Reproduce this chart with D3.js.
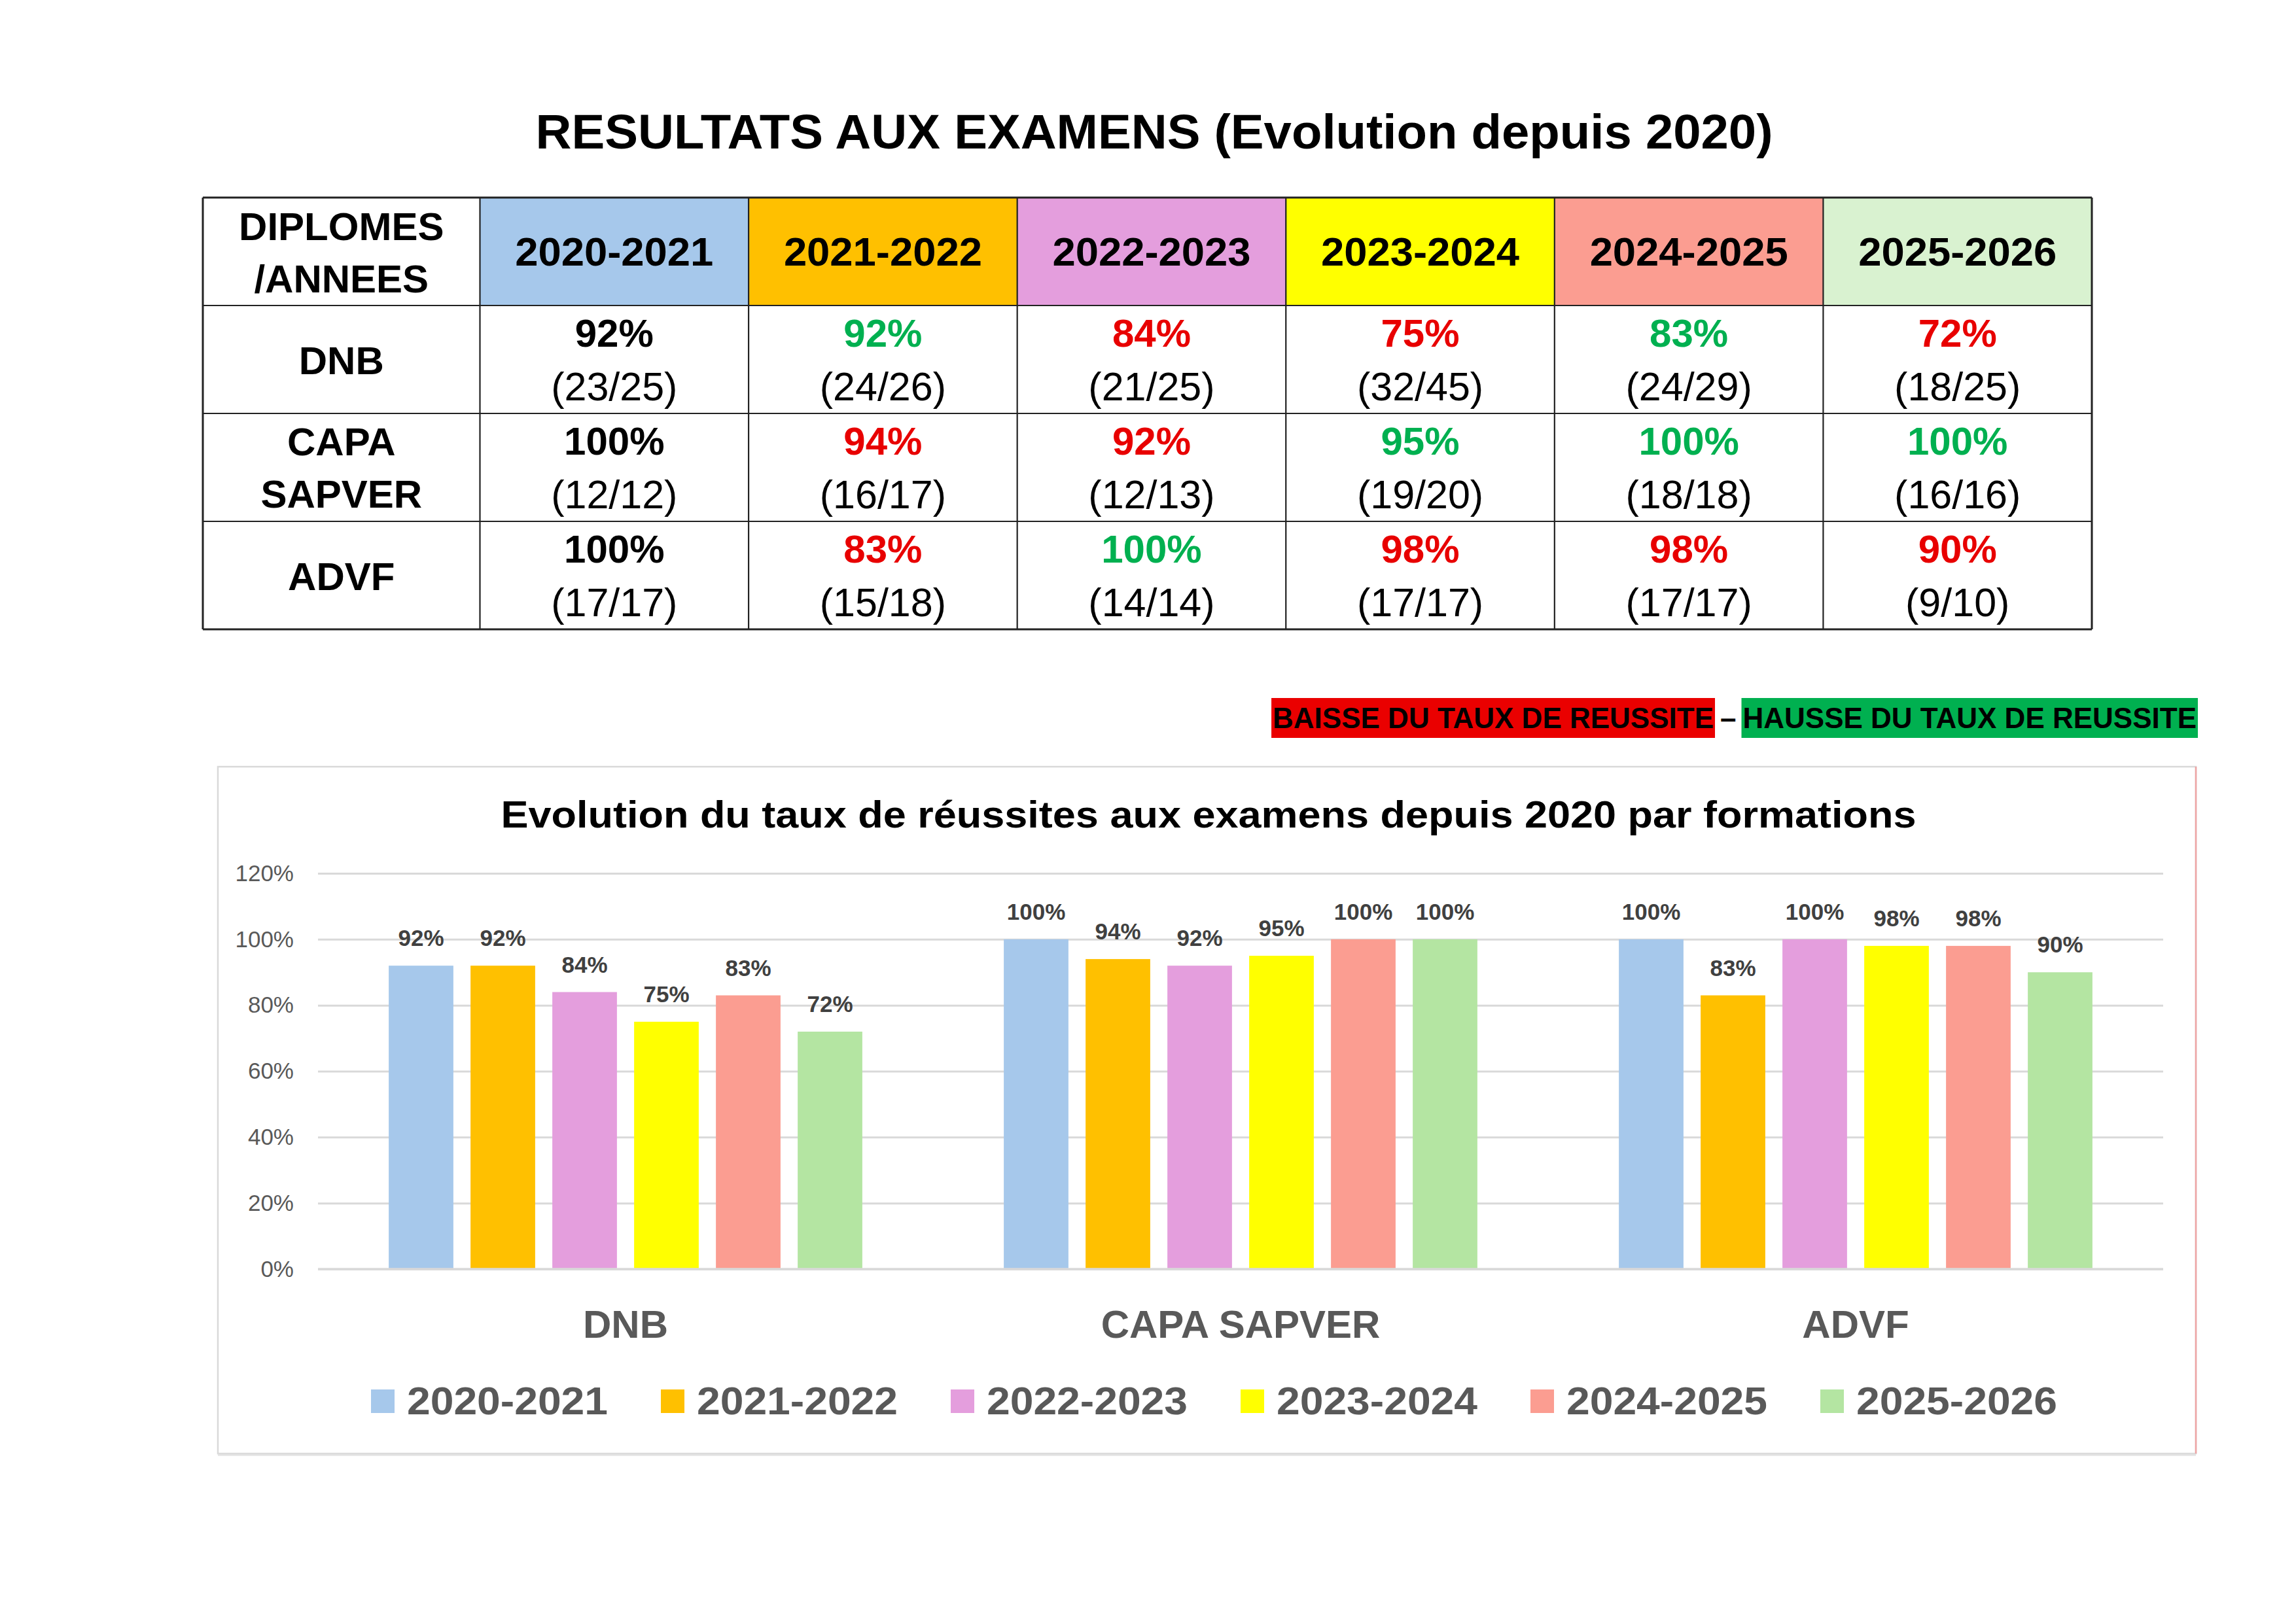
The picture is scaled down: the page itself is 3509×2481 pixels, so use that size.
<!DOCTYPE html>
<html><head><meta charset="utf-8">
<script src="https://cdn.jsdelivr.net/npm/d3@7"></script>
<style>
html,body{margin:0;padding:0;background:#fff;}
svg{display:block;}
</style></head>
<body>
<svg id="c" width="3509" height="2481"></svg>
<script>
// ---------- DATA ----------
const title = "RESULTATS AUX EXAMENS (Evolution depuis 2020)";
const chartTitle = "Evolution du taux de réussites aux examens depuis 2020 par formations";
const years = ["2020-2021","2021-2022","2022-2023","2023-2024","2024-2025","2025-2026"];
const diplomas = ["DNB","CAPA SAPVER","ADVF"];
const diplomaLines = [["DNB"],["CAPA","SAPVER"],["ADVF"]];
const dnbValues  = [92, 92, 84, 75, 83, 72];
const capaValues = [100, 94, 92, 95, 100, 100];
const advfValues = [100, 83, 100, 98, 98, 90];
const dnbCounts  = ["(23/25)","(24/26)","(21/25)","(32/45)","(24/29)","(18/25)"];
const capaCounts = ["(12/12)","(16/17)","(12/13)","(19/20)","(18/18)","(16/16)"];
const advfCounts = ["(17/17)","(15/18)","(14/14)","(17/17)","(17/17)","(9/10)"];
// trend shown in table: 0 = reference, -1 = baisse, +1 = hausse
const dnbTrend  = [0, 1, -1, -1, 1, -1];
const capaTrend = [0, -1, -1, 1, 1, 1];
const advfTrend = [0, -1, 1, -1, -1, -1];
const yTicks = [0, 0.2, 0.4, 0.6, 0.8, 1.0, 1.2];
const legendDown = "BAISSE DU TAUX DE REUSSITE";
const legendUp = "HAUSSE DU TAUX DE REUSSITE";

const values = [dnbValues, capaValues, advfValues];
const counts = [dnbCounts, capaCounts, advfCounts];
const trends = [dnbTrend, capaTrend, advfTrend];

// ---------- STYLE ----------
const headerFill = ["#a6c8eb","#ffc000","#e49edd","#ffff00","#fb9d91","#d9f2d0"];
const barFill    = ["#a6c8eb","#ffc000","#e49edd","#ffff00","#fb9d91","#b4e5a2"];
const RED = "#e80000", GREEN = "#00b050";
const FONT = "'Liberation Sans', Arial, sans-serif";

const svg = d3.select("#c").style("font-family", FONT);

// ---------- MAIN TITLE ----------
svg.append("text").attr("x", 1764).attr("y", 227).attr("text-anchor","middle")
  .attr("font-size", 74).attr("font-weight","bold").attr("fill","#000")
  .attr("textLength", 1891).attr("lengthAdjust","spacingAndGlyphs").text(title);

// ---------- TABLE ----------
const colX = d3.scaleBand().domain(years).range([733.5, 3197]);
const rowY = d3.scaleBand().domain(diplomas).range([467, 962]);
const tLeft = 310, tTop = 302, hdrBottom = 467;
const tb = svg.append("g");
tb.selectAll("rect.h").data(years).join("rect")
  .attr("x", d => colX(d)).attr("y", tTop).attr("width", colX.bandwidth()).attr("height", hdrBottom - tTop)
  .attr("fill", (d,i) => headerFill[i]);
const vlines = [tLeft, ...years.map(y => colX(y)), colX.range()[1]];
const hlines = [tTop, ...diplomas.map(d => rowY(d)), rowY.range()[1]];
tb.selectAll("line.v").data(vlines).join("line")
  .attr("x1", d => d).attr("x2", d => d).attr("y1", tTop).attr("y2", rowY.range()[1])
  .attr("stroke","#222").attr("stroke-width", (d,i) => (i===0||i===vlines.length-1) ? 3 : 2.2);
tb.selectAll("line.hl").data(hlines).join("line")
  .attr("x1", tLeft).attr("x2", colX.range()[1]).attr("y1", d => d).attr("y2", d => d)
  .attr("stroke","#222").attr("stroke-width", (d,i) => (i===0||i===hlines.length-1) ? 3 : 2.2);
const c0 = (tLeft + colX.range()[0]) / 2;
tb.append("text").attr("x", c0).attr("y", 367).attr("text-anchor","middle")
  .attr("font-size", 60).attr("font-weight","bold").text("DIPLOMES");
tb.append("text").attr("x", c0).attr("y", 447).attr("text-anchor","middle")
  .attr("font-size", 60).attr("font-weight","bold").text("/ANNEES");
tb.selectAll("text.yr").data(years).join("text")
  .attr("x", d => colX(d) + colX.bandwidth()/2).attr("y", 406).attr("text-anchor","middle")
  .attr("font-size", 61).attr("font-weight","bold").attr("fill","#000")
  .attr("textLength", 303).attr("lengthAdjust","spacingAndGlyphs").text(d => d);
diplomas.forEach((d, r) => {
  const lines = diplomaLines[r];
  const top = rowY(d), h = rowY.bandwidth();
  lines.forEach((ln, k) => {
    const yb = lines.length === 1 ? top + h/2 + 22 : top + 64 + k*80;
    tb.append("text").attr("x", c0).attr("y", yb).attr("text-anchor","middle")
      .attr("font-size", 60).attr("font-weight","bold").attr("fill","#000").text(ln);
  });
  years.forEach((yr, i) => {
    const cx = colX(yr) + colX.bandwidth()/2;
    const t = trends[r][i];
    tb.append("text").attr("x", cx).attr("y", top + 63).attr("text-anchor","middle")
      .attr("font-size", 60).attr("font-weight","bold")
      .attr("fill", t < 0 ? RED : t > 0 ? GREEN : "#000").text(values[r][i] + "%");
    tb.append("text").attr("x", cx).attr("y", top + 145).attr("text-anchor","middle")
      .attr("font-size", 61).attr("fill","#000").text(counts[r][i]);
  });
});

// ---------- RED / GREEN KEY ----------
const key = svg.append("g");
const keyY = 1113, keyFS = 44;
const tUp = key.append("text").attr("x", 3357).attr("y", keyY).attr("text-anchor","end")
  .attr("font-size", keyFS).attr("font-weight","bold").text(legendUp);
const bUp = tUp.node().getBBox();
const tDash = key.append("text").attr("x", bUp.x - 10).attr("y", keyY).attr("text-anchor","end")
  .attr("font-size", keyFS).attr("font-weight","bold").text("–");
const bDash = tDash.node().getBBox();
const tDown = key.append("text").attr("x", bDash.x - 10).attr("y", keyY).attr("text-anchor","end")
  .attr("font-size", keyFS).attr("font-weight","bold").text(legendDown);
const bDown = tDown.node().getBBox();
key.insert("rect", "text").attr("x", bUp.x - 2).attr("y", 1067).attr("width", bUp.width + 4).attr("height", 61).attr("fill", "#00b050");
key.insert("rect", "text").attr("x", bDown.x - 2).attr("y", 1067).attr("width", bDown.width + 4).attr("height", 61).attr("fill", "#ea0000");

// ---------- CHART ----------
const box = {x0: 333, y0: 1172, x1: 3356, y1: 2222};
svg.append("rect").attr("x", box.x0).attr("y", box.y0).attr("width", box.x1 - box.x0).attr("height", box.y1 - box.y0)
  .attr("fill","#fff").attr("stroke","#d9d9d9").attr("stroke-width", 2.5);
svg.append("line").attr("x1", box.x1).attr("x2", box.x1).attr("y1", box.y0).attr("y2", box.y1)
  .attr("stroke","#eea4a4").attr("stroke-width", 2.5);
svg.append("line").attr("x1", box.x0).attr("x2", box.x1).attr("y1", box.y1 + 2).attr("y2", box.y1 + 2)
  .attr("stroke","#e2e2e2").attr("stroke-width", 3);

svg.append("text").attr("x", 1847).attr("y", 1265).attr("text-anchor","middle")
  .attr("font-size", 58).attr("font-weight","bold").attr("fill","#000")
  .attr("textLength", 2163).attr("lengthAdjust","spacingAndGlyphs").text(chartTitle);

const y = d3.scaleLinear().domain([0, 1.2]).range([1940, 1335]);
const x0 = d3.scaleBand().domain(diplomas).range([486, 3306]).padding(0);
const x1 = d3.scaleBand().domain(years).range([0, x0.bandwidth()]).paddingInner(0.21).paddingOuter(0.865);

const yAxis = d3.axisLeft(y).tickValues(yTicks).tickSize(-(3306 - 486)).tickFormat(d3.format(".0%"));
const ga = svg.append("g").attr("transform", "translate(486,0)").call(yAxis);
ga.select(".domain").remove();
ga.selectAll(".tick line").attr("stroke","#d9d9d9").attr("stroke-width", 3);
ga.selectAll(".tick text").attr("x", -37).attr("font-size", 35).attr("fill","#595959")
  .attr("font-family", FONT);

const groups = svg.append("g").selectAll("g").data(diplomas).join("g")
  .attr("transform", d => `translate(${x0(d)},0)`);
groups.selectAll("rect").data((d, r) => values[r].map((v, i) => ({yr: years[i], v: v/100, i})))
  .join("rect")
  .attr("x", d => x1(d.yr)).attr("width", x1.bandwidth())
  .attr("y", d => y(d.v)).attr("height", d => y(0) - y(d.v))
  .attr("fill", d => barFill[d.i]);
groups.selectAll("text").data((d, r) => values[r].map((v, i) => ({yr: years[i], v: v/100, i})))
  .join("text")
  .attr("x", d => x1(d.yr) + x1.bandwidth()/2).attr("y", d => y(d.v) - 30)
  .attr("text-anchor","middle").attr("font-size", 35).attr("font-weight","bold").attr("fill","#404040")
  .text(d => d3.format(".0%")(d.v));
svg.append("line").attr("x1", 486).attr("x2", 3306).attr("y1", y(0)).attr("y2", y(0))
  .attr("stroke","#d9d9d9").attr("stroke-width", 3.5);

const xAxis = d3.axisBottom(x0).tickSize(0).tickPadding(0);
const gx = svg.append("g").attr("transform", `translate(0,${y(0)})`).call(xAxis);
gx.select(".domain").remove();
gx.selectAll(".tick text").attr("y", 105).attr("dy", 0).attr("font-size", 60).attr("font-weight","bold")
  .attr("fill","#595959").attr("font-family", FONT);

const lg = svg.append("g").selectAll("g").data(years).join("g")
  .attr("transform", (d, i) => `translate(${567 + i*443},2124)`);
lg.append("rect").attr("width", 36).attr("height", 36).attr("fill", (d, i) => barFill[i]);
lg.append("text").attr("x", 55).attr("y", 38).attr("font-size", 60).attr("font-weight","bold")
  .attr("fill","#595959").attr("textLength", 307).attr("lengthAdjust","spacingAndGlyphs").text(d => d);
</script>
</body></html>
